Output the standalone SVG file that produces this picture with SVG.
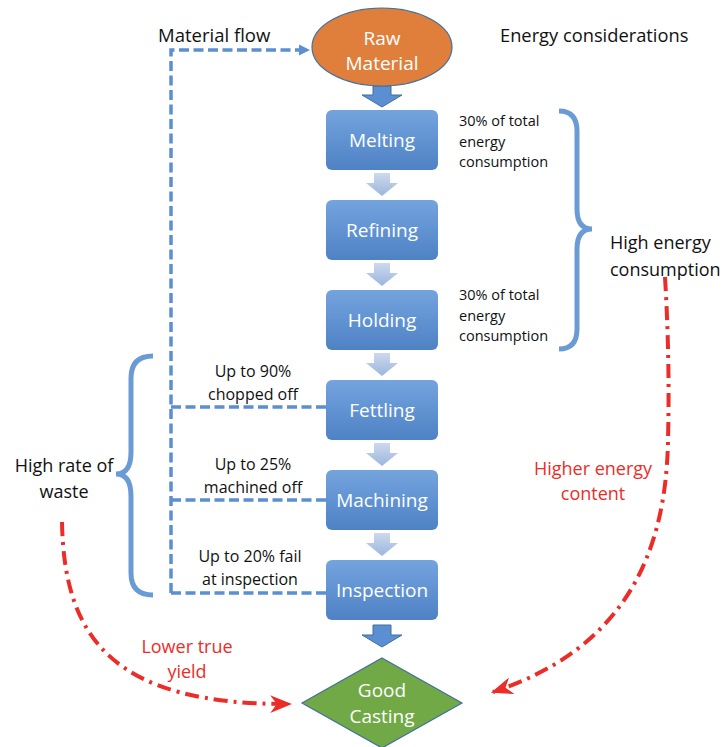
<svg xmlns="http://www.w3.org/2000/svg" width="723" height="747" viewBox="0 0 723 747">
  <defs>
    <linearGradient id="boxFill" x1="0" y1="0" x2="0" y2="1">
      <stop offset="0" stop-color="#74a4dd"/>
      <stop offset="0.5" stop-color="#6193d3"/>
      <stop offset="1" stop-color="#4f82c3"/>
    </linearGradient>
    <linearGradient id="stepArrowFill" x1="0" y1="0" x2="0" y2="1">
      <stop offset="0" stop-color="#cdd9ec"/>
      <stop offset="1" stop-color="#9bb6df"/>
    </linearGradient>
    <marker id="flowHead" viewBox="0 0 10 10" refX="9" refY="5" markerWidth="3.2" markerHeight="3.2" orient="auto" markerUnits="strokeWidth">
      <path d="M0 0 L10 5 L0 10 Z" fill="#5b8fd2"/>
    </marker>
    <marker id="redHead" viewBox="0 0 20 16" refX="18" refY="8" markerWidth="5.5" markerHeight="4.4" orient="auto" markerUnits="strokeWidth">
      <path d="M0 0 L20 8 L0 16 L6 8 Z" fill="#ec2d27"/>
    </marker>
  </defs>
  <style>
    text { font-family: "Open Sans", "Liberation Sans", sans-serif; }
    .lbl { fill: #111; }
    .white { fill: #ffffff; text-anchor: middle; font-size: 19px; }
    .note { font-size: 14.5px; fill: #111; }
    .loss { font-size: 16px; fill: #111; text-anchor: middle; }
    .red { fill: #ec2d27; font-size: 18px; text-anchor: middle; }
    .box { fill: url(#boxFill); }
    .step { fill: url(#stepArrowFill); }
    .block { fill: #5b8fd2; stroke: #41719c; stroke-width: 1; }
    .flow { fill: none; stroke: #5b8fd2; stroke-width: 3.5; stroke-dasharray: 10 4.5; }
    .brace { fill: none; stroke: #6a9bd5; stroke-width: 5; stroke-linecap: butt; }
    .energy { fill: none; stroke: #ec2d27; stroke-width: 4; stroke-dasharray: 14 6 3 6; }
  </style>

  <!-- headings -->
  <text class="lbl" x="158" y="42" font-size="18.5">Material flow</text>
  <text class="lbl" x="500" y="42" font-size="18.3">Energy considerations</text>

  <!-- material flow return lines (dashed) -->
  <g id="connectors">
    <path class="flow" d="M171 593 L171 50 L309 50" marker-end="url(#flowHead)"/>
    <path class="flow" d="M326 407 L171 407"/>
    <path class="flow" d="M326 500 L171 500"/>
    <path class="flow" d="M326 593 L171 593"/>

    <!-- block arrows into and out of the process chain -->
    <path class="block" d="M373 86 L391 86 L391 95 L402 95 L382 107 L362 95 L373 95 Z"/>
    <path class="block" d="M373 625 L391 625 L391 635 L402 635 L382 647 L362 635 L373 635 Z"/>

    <!-- step arrows between process boxes -->
    <path class="step" d="M374 173 L390 173 L390 183 L398 183 L382 196 L366 183 L374 183 Z"/>
    <path class="step" d="M374 263 L390 263 L390 273 L398 273 L382 286 L366 273 L374 273 Z"/>
    <path class="step" d="M374 353 L390 353 L390 363 L398 363 L382 376 L366 363 L374 363 Z"/>
    <path class="step" d="M374 443 L390 443 L390 453 L398 453 L382 466 L366 453 L374 453 Z"/>
    <path class="step" d="M374 533 L390 533 L390 543 L398 543 L382 556 L366 543 L374 543 Z"/>

    <!-- energy / yield trend arrows -->
    <path class="energy" d="M665 277 Q670 360 668 440 C666 560 620 650 493 692" marker-end="url(#redHead)"/>
    <path class="energy" d="M62 522 C64 640 115 705 290 704" marker-end="url(#redHead)"/>
  </g>

  <!-- braces -->
  <path class="brace" d="M559 111 Q577 111 577 131 L577 209 Q577 229 592 229 Q577 229 577 249 L577 329 Q577 349 559 349"/>
  <path class="brace" d="M153 356 Q131 356 131 378 L131 452 Q131 474 116 474 Q131 474 131 496 L131 573 Q131 595 153 595"/>

  <!-- nodes -->
  <g id="raw-material">
    <ellipse cx="382" cy="47" rx="70" ry="39" fill="#e07f3c" stroke="#41719c" stroke-width="1.2"/>
    <text class="white" x="382" y="45">Raw</text>
    <text class="white" x="382" y="70">Material</text>
  </g>
  <g id="melting">
    <rect class="box" x="326" y="110" width="112" height="60" rx="6"/>
    <text class="white" x="382" y="147">Melting</text>
  </g>
  <g id="refining">
    <rect class="box" x="326" y="200" width="112" height="60" rx="6"/>
    <text class="white" x="382" y="237">Refining</text>
  </g>
  <g id="holding">
    <rect class="box" x="326" y="290" width="112" height="60" rx="6"/>
    <text class="white" x="382" y="327">Holding</text>
  </g>
  <g id="fettling">
    <rect class="box" x="326" y="380" width="112" height="60" rx="6"/>
    <text class="white" x="382" y="417">Fettling</text>
  </g>
  <g id="machining">
    <rect class="box" x="326" y="470" width="112" height="60" rx="6"/>
    <text class="white" x="382" y="507">Machining</text>
  </g>
  <g id="inspection">
    <rect class="box" x="326" y="560" width="112" height="60" rx="6"/>
    <text class="white" x="382" y="597">Inspection</text>
  </g>
  <g id="good-casting">
    <path d="M382 658 L462 703 L382 748 L302 703 Z" fill="#70a946" stroke="#41719c" stroke-width="1.2"/>
    <text class="white" x="382" y="697">Good</text>
    <text class="white" x="382" y="723">Casting</text>
  </g>

  <!-- energy notes -->
  <g id="melting-note">
    <text class="note" x="459" y="126">30% of total</text>
    <text class="note" x="459" y="147">energy</text>
    <text class="note" x="459" y="167">consumption</text>
  </g>
  <g id="holding-note">
    <text class="note" x="459" y="300">30% of total</text>
    <text class="note" x="459" y="321">energy</text>
    <text class="note" x="459" y="341">consumption</text>
  </g>
  <text class="lbl" x="610" y="249" font-size="18">High energy</text>
  <text class="lbl" x="610" y="276" font-size="18">consumption</text>

  <!-- waste notes -->
  <text class="loss" x="253" y="377">Up to 90%</text>
  <text class="loss" x="253" y="400">chopped off</text>
  <text class="loss" x="253" y="470">Up to 25%</text>
  <text class="loss" x="253" y="493">machined off</text>
  <text class="loss" x="250" y="562">Up to 20% fail</text>
  <text class="loss" x="250" y="585">at inspection</text>
  <text class="lbl" x="64" y="472" font-size="18" text-anchor="middle">High rate of</text>
  <text class="lbl" x="64" y="498" font-size="18" text-anchor="middle">waste</text>

  <!-- trend labels -->
  <text class="red" x="593" y="475">Higher energy</text>
  <text class="red" x="593" y="500">content</text>
  <text class="red" x="187" y="653">Lower true</text>
  <text class="red" x="187" y="678">yield</text>
</svg>
